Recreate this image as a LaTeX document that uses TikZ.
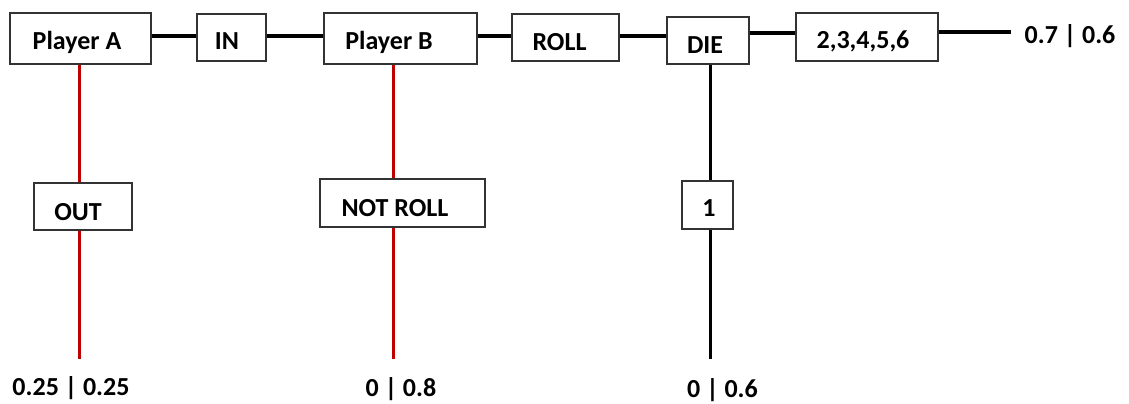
\documentclass[tikz,border=0pt]{standalone}
\usepackage{fontspec}
\setmainfont{Carlito}
\definecolor{dred}{RGB}{192,0,0}
\begin{document}
\begin{tikzpicture}[x=0.5pt,y=-0.5pt,
  box/.style={draw=black!80, line width=0.7pt, fill=white, inner sep=0pt},
  lbl/.style={inner sep=0pt, anchor=base, font=\fontsize{13}{15}\selectfont\bfseries},
  conn/.style={line width=2pt, black},
  redl/.style={line width=1.5pt, dred},
  blkv/.style={line width=1.5pt, black}]
\useasboundingbox (0,0) rectangle (1129,403);
% boxes
\node[box, minimum width=70.5pt, minimum height=25.5pt] (pa) at (80.5,38.5) {};
\node[box, minimum width=34.5pt, minimum height=23.5pt] (in) at (231.5,37.5) {};
\node[box, minimum width=76.5pt, minimum height=25.5pt] (pb) at (400.5,38.5) {};
\node[box, minimum width=53.5pt, minimum height=23.5pt] (roll) at (565.5,37.5) {};
\node[box, minimum width=41pt, minimum height=23.5pt] (die) at (708,40.5) {};
\node[box, minimum width=71pt, minimum height=24pt] (six) at (867,37) {};
\node[box, minimum width=49pt, minimum height=23.5pt] (out) at (83,206.5) {};
\node[box, minimum width=82.5pt, minimum height=24pt] (notroll) at (402.5,203) {};
\node[box, minimum width=25.5pt, minimum height=24pt] (one) at (707.5,205) {};
% texts
\node[lbl] (tpa) at (77,49) {Player A};
\node[lbl] (tin) at (227,49.5) {IN};
\node[lbl] (tpb) at (389,49) {Player B};
\node[lbl] (troll) at (559.5,50) {ROLL};
\node[lbl] (tdie) at (705,53) {DIE};
\node[lbl] (tsix) at (863,48) {2,3,4,5,6};
\node[lbl] (tout) at (78,220) {OUT};
\node[lbl] (tnot) at (395,216) {NOT ROLL};
\node[lbl] (tone) at (709,216) {1};
\node[lbl] (r1) at (1070,43) {0.7 | 0.6};
\node[lbl] (p1) at (71,395) {0.25 | 0.25};
\node[lbl] (p2) at (401,396) {0 | 0.8};
\node[lbl] (p3) at (722.5,397) {0 | 0.6};
% free ends
\coordinate (e0) at (1011,32);
\coordinate (e1) at (79,359);
\coordinate (e2) at (393,359);
\coordinate (e3) at (710,359);
% horizontal connectors
\draw[conn] (pa.east |- 0,36) -- (in.west |- 0,36);
\draw[conn] (in.east |- 0,36) -- (pb.west |- 0,36);
\draw[conn] (pb.east |- 0,36) -- (roll.west |- 0,36);
\draw[conn] (roll.east |- 0,36) -- (die.west |- 0,36);
\draw[conn] (die.east |- 0,33) -- (six.west |- 0,33);
\draw[conn] (six.east |- e0) -- (e0);
% vertical connectors
\draw[redl] (pa.south -| e1) -- (out.north -| e1);
\draw[redl] (out.south -| e1) -- (e1);
\draw[redl] (pb.south -| e2) -- (notroll.north -| e2);
\draw[redl] (notroll.south -| e2) -- (e2);
\draw[blkv] (die.south -| e3) -- (one.north -| e3);
\draw[blkv] (one.south -| e3) -- (e3);
\end{tikzpicture}
\end{document}
